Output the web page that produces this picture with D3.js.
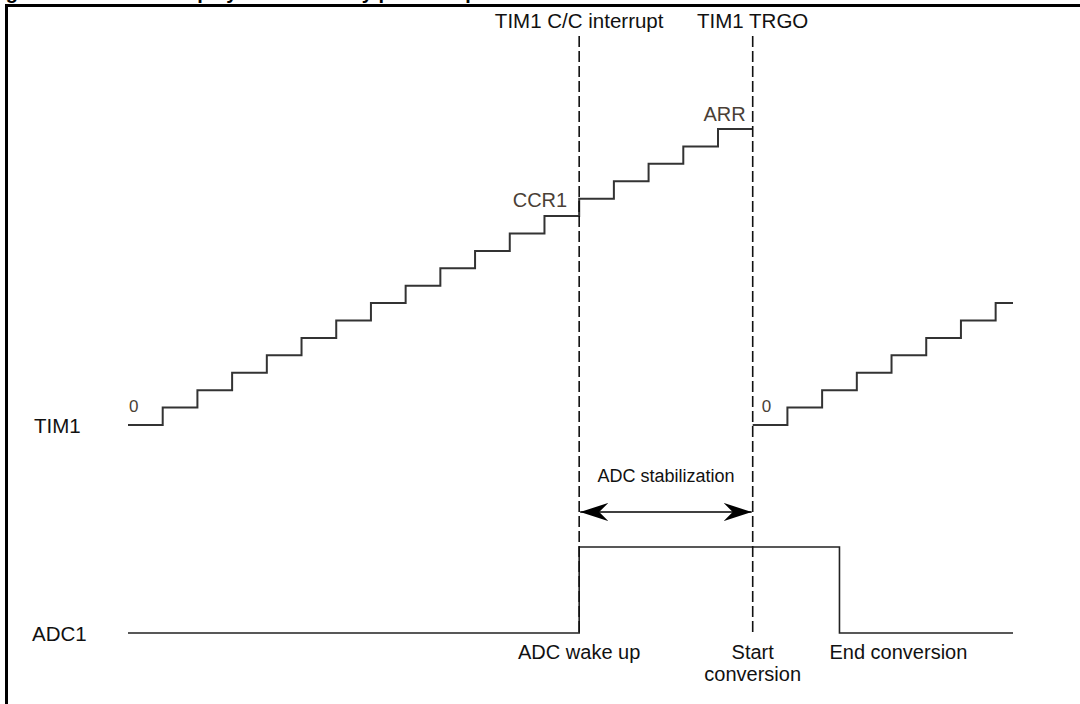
<!DOCTYPE html>
<html>
<head>
<meta charset="utf-8">
<script src="https://cdn.jsdelivr.net/npm/d3@7"></script>
<style>
  html, body { margin: 0; padding: 0; background: #fff; }
  svg { display: block; font-family: "Liberation Sans", Arial, sans-serif; }
</style>
</head>
<body>
<div id="timing-chart"></div>
<script>
// counter values of TIM1, one value per timer tick
const tim1Counts = [0, 1, 2, 3, 4, 5, 6, 7, 8, 9, 10, 11, 12, 13, 14, 15, 16, 17];
const tim1CountsAfterReset = [0, 1, 2, 3, 4, 5, 6, 7];
const tim1ResetTick = 18;
const tickEnd = 25.5;

// events (in timer ticks)
const ccInterruptTick = 13;
const trgoTick = 18;

// ADC1 signal: tick where each level starts, and its level
const adcTicks = [0, 13, 20.5, 25.5];
const adcLevels = [0, 1, 0, 0];

const topLabels = ["TIM1 C/C interrupt", "TIM1 TRGO"];
const bottomLabels = ["ADC wake up", ["Start", "conversion"], "End conversion"];

const drawChart = () => {
  const width = 1080;
  const height = 704;

  const svg = d3.select("#timing-chart")
    .append("svg")
    .attr("width", width)
    .attr("height", height);

  const xScale = d3.scaleLinear().domain([0, tickEnd]).range([128, 1013]);
  const yCount = d3.scaleLinear().domain([0, 17]).range([425, 129]);
  const yAdc = d3.scaleLinear().domain([0, 1]).range([633, 547]);

  // cut off figure title and frame
  svg.append("text")
    .attr("x", -12)
    .attr("y", -1)
    .attr("font-size", 20)
    .attr("font-weight", "bold")
    .text("Figure 12. ADC wakeup synchronized by pulse sequence");

  svg.append("path")
    .attr("d", "M6.5,720V5.5H1080")
    .attr("fill", "none")
    .attr("stroke", "#000")
    .attr("stroke-width", 3);

  // TIM1 counter as staircase
  const stair = d3.line()
    .x(d => xScale(d[0]))
    .y(d => yCount(d[1]))
    .curve(d3.curveStepAfter);

  const run1 = tim1Counts.map((v, i) => [i, v]);
  run1.push([tim1Counts.length, tim1Counts[tim1Counts.length - 1]]);
  const run2 = tim1CountsAfterReset.map((v, i) => [tim1ResetTick + i, v]);
  run2.push([tickEnd, tim1CountsAfterReset[tim1CountsAfterReset.length - 1]]);

  svg.selectAll(".stair")
    .data([run1, run2])
    .enter().append("path")
    .attr("class", "stair")
    .attr("d", stair)
    .attr("fill", "none")
    .attr("stroke", "#333")
    .attr("stroke-width", 2);

  // ADC1 signal
  const adcLine = d3.line()
    .x(d => xScale(d[0]))
    .y(d => yAdc(d[1]))
    .curve(d3.curveStepAfter);

  svg.append("path")
    .attr("d", adcLine(adcTicks.map((t, i) => [t, adcLevels[i]])))
    .attr("fill", "none")
    .attr("stroke", "#222")
    .attr("stroke-width", 1.6);

  // event markers
  const events = [ccInterruptTick, trgoTick];
  svg.selectAll(".event")
    .data(events)
    .enter().append("line")
    .attr("class", "event")
    .attr("x1", d => xScale(d))
    .attr("x2", d => xScale(d))
    .attr("y1", 36)
    .attr("y2", yAdc(0))
    .attr("stroke", "#111")
    .attr("stroke-width", 1.6)
    .attr("stroke-dasharray", "11,4");

  svg.selectAll(".top-label")
    .data(topLabels)
    .enter().append("text")
    .attr("class", "top-label")
    .attr("x", (d, i) => xScale(events[i]))
    .attr("y", 28)
    .attr("text-anchor", "middle")
    .attr("font-size", 20.5)
    .attr("fill", "#111")
    .text(d => d);

  // counter value labels
  const valueLabels = [
    {text: "0", x: xScale(0) + 1, y: yCount(0) - 13, anchor: "start"},
    {text: "CCR1", x: xScale(ccInterruptTick) - 12, y: yCount(tim1Counts[ccInterruptTick - 1]) - 9, anchor: "end"},
    {text: "ARR", x: xScale(trgoTick) - 7, y: yCount(17) - 8, anchor: "end"},
    {text: "0", x: xScale(tim1ResetTick) + 9, y: yCount(0) - 13, anchor: "start"}
  ];
  svg.selectAll(".value-label")
    .data(valueLabels)
    .enter().append("text")
    .attr("class", "value-label")
    .attr("x", d => d.x)
    .attr("y", d => d.y)
    .attr("text-anchor", d => d.anchor)
    .attr("font-size", d => d.text == "0" ? 17 : 20)
    .attr("fill", "#4a3f36")
    .text(d => d.text);

  // signal names
  svg.append("text")
    .attr("x", 34).attr("y", yCount(0) + 8)
    .attr("font-size", 20.5).attr("fill", "#111")
    .text("TIM1");
  svg.append("text")
    .attr("x", 32).attr("y", yAdc(0) + 8)
    .attr("font-size", 20.5).attr("fill", "#111")
    .text("ADC1");

  // ADC stabilization arrow
  const defs = svg.append("defs");
  defs.append("marker")
    .attr("id", "head")
    .attr("viewBox", "0 0 28 18")
    .attr("refX", 28).attr("refY", 9)
    .attr("markerWidth", 28).attr("markerHeight", 18)
    .attr("markerUnits", "userSpaceOnUse")
    .attr("orient", "auto-start-reverse")
    .append("path")
    .attr("d", "M0,0L28,9L0,18L9,9Z")
    .attr("fill", "#000");

  svg.append("line")
    .attr("x1", xScale(ccInterruptTick) + 1)
    .attr("x2", xScale(trgoTick) - 1)
    .attr("y1", 512).attr("y2", 512)
    .attr("stroke", "#000")
    .attr("stroke-width", 1.6)
    .attr("marker-start", "url(#head)")
    .attr("marker-end", "url(#head)");

  svg.append("text")
    .attr("x", (xScale(ccInterruptTick) + xScale(trgoTick)) / 2)
    .attr("y", 482)
    .attr("text-anchor", "middle")
    .attr("font-size", 18)
    .attr("fill", "#111")
    .text("ADC stabilization");

  // bottom labels
  const bottomX = [xScale(ccInterruptTick), xScale(trgoTick), xScale(adcTicks[2]) - 10];
  const bottomAnchor = ["middle", "middle", "start"];
  bottomLabels.forEach((lab, i) => {
    const t = svg.append("text")
      .attr("x", bottomX[i])
      .attr("y", 659)
      .attr("text-anchor", bottomAnchor[i])
      .attr("font-size", 20)
      .attr("fill", "#111");
    [].concat(lab).forEach((line, j) => {
      t.append("tspan")
        .attr("x", bottomX[i])
        .attr("dy", j == 0 ? 0 : 22)
        .text(line);
    });
  });
};

drawChart();
</script>
</body>
</html>
